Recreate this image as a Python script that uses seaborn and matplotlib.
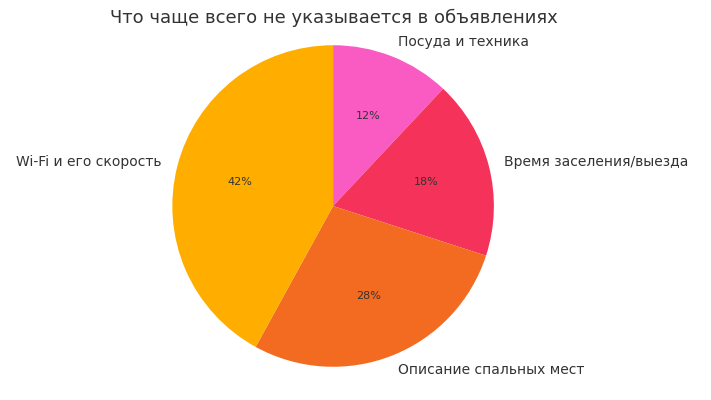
import matplotlib
matplotlib.use("Agg")
import matplotlib.pyplot as plt
import seaborn as sns

sns.set_theme(style="white")
plt.rcParams['font.family'] = ['DejaVu Sans']

labels = ["Посуда и техника", "Время заселения/выезда", "Описание спальных мест", "Wi-Fi и его скорость"]
values = [12, 18, 28, 42]
colors = ["#F95BC3", "#F5325A", "#F26B21", "#FFAE00"]

fig = plt.figure(figsize=(7.11, 4.0), dpi=100)
ax = fig.add_axes([0.0, 0.075, 0.937, 0.82])
wedges, texts, autotexts = ax.pie(values, labels=labels, colors=colors, startangle=90, counterclock=False,
       autopct='%1.0f%%', pctdistance=0.6, labeldistance=1.1,
       wedgeprops={'linewidth': 0}, textprops={'fontsize': 10, 'color': '#333333'})
for t in autotexts:
    t.set_fontsize(8)
for t in texts:
    t.set_clip_on(False)
ax.set_xlim(-1.02 * 0.937 * 711 / 328, 1.02 * 0.937 * 711 / 328)
ax.set_ylim(-1.02, 1.02)
ax.set_aspect('equal')
fig.text(0.47, 0.955, "Что чаще всего не указывается в объявлениях", ha='center', va='center',
         fontsize=13, color='#333333')
fig.savefig("out.png", dpi=100)
